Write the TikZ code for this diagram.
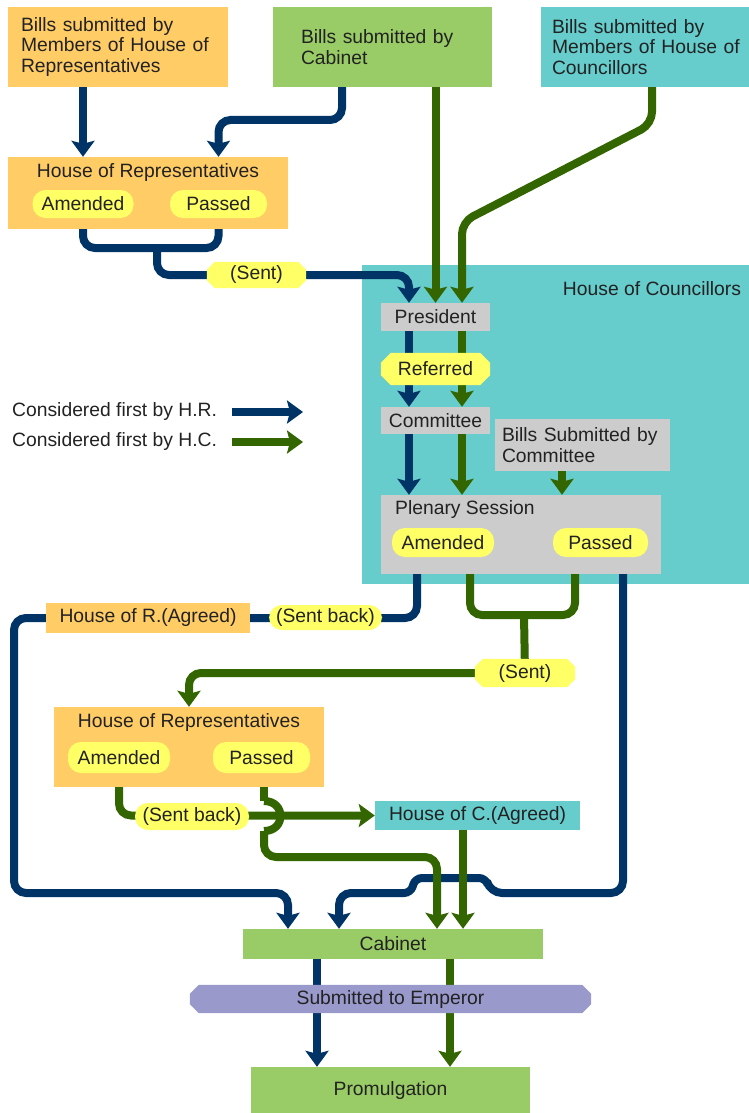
\documentclass[tikz,border=0pt]{standalone}
\usepackage{fontspec}
\setmainfont{Liberation Sans}
\usetikzlibrary{arrows.meta}
\definecolor{orng}{HTML}{FFCC66}
\definecolor{grn}{HTML}{99CC66}
\definecolor{tl}{HTML}{66CCCC}
\definecolor{ylw}{HTML}{FFFF66}
\definecolor{gry}{HTML}{CCCCCC}
\definecolor{prp}{HTML}{9999CC}
\definecolor{nvy}{HTML}{003366}
\definecolor{dgr}{HTML}{336600}
\definecolor{txt}{HTML}{222222}
\pgfdeclarelayer{back}
\pgfdeclarelayer{lines}
\pgfdeclarelayer{shapes}
\pgfsetlayers{back,lines,shapes,main}
\newcommand\octfill[3]{\fill[#2] ([shift={(#3,0)}]#1.north west) -- ([shift={(-#3,0)}]#1.north east) -- ([shift={(0,#3)}]#1.north east) -- ([shift={(0,-#3)}]#1.south east) -- ([shift={(-#3,0)}]#1.south east) -- ([shift={(#3,0)}]#1.south west) -- ([shift={(0,-#3)}]#1.south west) -- ([shift={(0,#3)}]#1.north west) -- cycle;}
\tikzset{
  base/.style={rectangle, inner sep=0pt, text=txt, font=\fontsize{19.3}{20.5}\selectfont},
  lbox/.style={base, align=left},
  pill/.style={base, fill=ylw, rounded corners=13pt},
  chamf/.style={base},
  hr/.style={draw=nvy, line width=8pt, rounded corners=12pt},
  hc/.style={draw=dgr, line width=8pt, rounded corners=12pt},
  tip/.style={-{Stealth[length=16pt,width=23pt,inset=3pt]}}
}
\begin{document}
\begin{tikzpicture}[x=1pt,y=-1pt]
\useasboundingbox (0,0) rectangle (749,1113);
% background house of councillors
\begin{pgfonlayer}{back}
\node[rectangle, fill=tl, inner sep=0pt, minimum width=387, minimum height=319] (hcbox) at (555.5,424.5) {};
\end{pgfonlayer}
\node[base] (hcl) at (652,289) {House of Councillors};
% top boxes
\node[lbox, fill=orng, minimum height=80, text width=194, inner xsep=13pt] (billsHR) at (118,47) {Bills submitted by\\Members of House of\\Representatives};
\node[lbox, fill=grn, minimum height=80, text width=163, inner xsep=28pt] (billsCab) at (382.5,47) {Bills submitted by\\Cabinet};
\node[lbox, fill=tl, minimum height=80, text width=198, inner xsep=11pt] (billsHC) at (651,47) {Bills submitted by\\Members of House of\\Councillors};
% House of Representatives (top)
\node[base, fill=orng, minimum width=280, minimum height=72] (hr1) at (148,193) {};
\node[base] (hr1t) at (148,173) {House of Representatives};
\node[pill, minimum width=101, minimum height=28] (hr1a) at (83,204) {Amended};
\node[pill, minimum width=97, minimum height=28] (hr1p) at (218.5,204) {Passed};
\node[chamf, minimum width=99, minimum height=26] (sent1) at (256.5,275) {(Sent)};
% House of Councillors
\node[base, fill=gry, minimum width=109, minimum height=28] (pres) at (435.5,317) {President};
\node[chamf, minimum width=109, minimum height=32] (ref) at (435.5,369) {Referred};
\node[base, fill=gry, minimum width=109, minimum height=27] (comm) at (435.5,420.5) {Committee};
\node[lbox, fill=gry, minimum height=52, text width=161, inner xsep=7pt] (bcomm) at (582.5,445) {Bills Submitted by\\Committee};
\node[base, fill=gry, minimum width=280, minimum height=79] (plen) at (521,534.5) {};
\node[base, anchor=west] (plent) at (395,510) {Plenary Session};
\node[pill, minimum width=102, minimum height=29] (plenA) at (443,542.5) {Amended};
\node[pill, minimum width=95, minimum height=29] (plenP) at (600.5,542.5) {Passed};
% middle
\node[base, fill=orng, minimum width=204, minimum height=30] (hrag) at (148,618) {House of R.(Agreed)};
\node[pill, minimum width=113, minimum height=25] (sb1) at (325.5,617.5) {(Sent back)};
\node[chamf, minimum width=100, minimum height=28] (sent2) at (525,673) {(Sent)};
% House of Representatives (bottom)
\node[base, fill=orng, minimum width=270, minimum height=80] (hr2) at (189,747) {};
\node[base] (hr2t) at (189,723) {House of Representatives};
\node[pill, minimum width=102, minimum height=31] (hr2a) at (119,757.5) {Amended};
\node[pill, minimum width=97, minimum height=31] (hr2p) at (261.5,757.5) {Passed};
\node[pill, minimum width=114, minimum height=27] (sb2) at (192,816.5) {(Sent back)};
\node[base, fill=tl, minimum width=205, minimum height=29] (hcag) at (477.5,815.5) {House of C.(Agreed)};
% bottom
\node[base, fill=grn, minimum width=300, minimum height=30] (cab) at (393,944) {Cabinet};
\node[chamf, minimum width=401, minimum height=28] (emp) at (390.5,999) {Submitted to Emperor};
\node[base, fill=grn, minimum width=279, minimum height=46] (prom) at (390.5,1090) {Promulgation};
% legend
\node[base, anchor=west] (leg1) at (12,412) {Considered first by H.R.};
\node[base, anchor=west] (leg2) at (12,442) {Considered first by H.C.};
% octagonal fills
\begin{pgfonlayer}{shapes}
\octfill{sent1}{ylw}{8}
\octfill{ref}{ylw}{10}
\octfill{sent2}{ylw}{8}
\octfill{emp}{prp}{9}
\end{pgfonlayer}
% coordinates
\coordinate (cN) at (409,0);
\coordinate (cG) at (462,0);
\coordinate (cN2) at (417,0);
\coordinate (cG2) at (470,0);
\coordinate (cG3) at (575,0);
\coordinate (cN3) at (623,0);
\coordinate (cBC) at (562,0);
\coordinate (cK1) at (288,0);
\coordinate (cK2) at (339,0);
\coordinate (cK3) at (437,0);
\coordinate (cK4) at (463,0);
\coordinate (cE1) at (317,0);
\coordinate (cE2) at (450,0);
\coordinate (cP) at (264,0);
\coordinate (cabTurn) at (342,120);
\coordinate (j1) at (157,248);
\coordinate (j2) at (524,615);
\coordinate (g1) at (652,124);
\coordinate (g2) at (462,222);
\coordinate (nl) at (14,893);
\coordinate (hopA) at (490,893);
\coordinate (hopB) at (486,878);
\coordinate (hopC) at (415,878);
\coordinate (hopD) at (411,893);
\coordinate (pA) at (264,801);
\coordinate (pB) at (264,831);
\coordinate (pC) at (264,857);
\coordinate (l1s) at (232,412);
\coordinate (l1e) at (303,412);
\coordinate (l2s) at (232,442);
\coordinate (l2e) at (303,442);
\begin{pgfonlayer}{lines}
% navy
\draw[hr,tip] (billsHR.south -| hr1a) -- (hr1.north -| hr1a);
\draw[hr,tip] (billsCab.south -| cabTurn) -- (cabTurn) -| (hr1.north -| hr1p);
\draw[hr] (hr1a.south) |- (j1) -| (hr1p.south);
\draw[hr,tip] (j1) |- (sent1.center) -| (pres.north -| cN);
\draw[hr,tip] (pres.south -| cN) -- (comm.north -| cN);
\draw[hr,tip] (comm.south -| cN) -- (plen.north -| cN);
\draw[hr] (plenA.south -| cN2) |- (hrag.east);
\draw[hr,tip] (hrag.west) -| (nl) -| (cab.north -| cK1);
\draw[hr,tip] (plenP.south -| cN3) |- (hopA) [rounded corners=7pt] -- (hopB) -- (hopC) -- (hopD) [rounded corners=12pt] -| (cab.north -| cK2);
\draw[hr,tip] (cab.south -| cE1) -- (prom.north -| cE1);
\draw[hr,tip] (l1s) -- (l1e);
% green
\draw[hc,tip] (billsCab.south -| pres) -- (pres.north);
\draw[hc,tip] (billsHC.south -| g1) -- (g1) -- (g2) -- (pres.north -| cG);
\draw[hc,tip] (pres.south -| cG) -- (comm.north -| cG);
\draw[hc,tip] (comm.south -| cG) -- (plen.north -| cG);
\draw[hc,tip] (bcomm.south -| cBC) -- (plen.north -| cBC);
\draw[hc] (plenA.south -| cG2) |- (j2) -| (plenP.south -| cG3);
\draw[hc] (j2) -- (sent2.center);
\draw[hc,tip] (sent2.center) -| (hr2.north);
\draw[hc,tip] (hr2a.south) |- (hcag.west);
\draw[hc] (hr2p.south -| cP) -- (pA);
\draw[hc,sharp corners] (pA) .. controls (286,801) and (286,831) .. (pB);
\draw[hc,tip] (pB) -- (pC) -| (cab.north -| cK3);
\draw[hc,tip] (hcag.south -| cK4) -- (cab.north -| cK4);
\draw[hc,tip] (cab.south -| cE2) -- (prom.north -| cE2);
\draw[hc,tip] (l2s) -- (l2e);
\end{pgfonlayer}
\end{tikzpicture}
\end{document}
